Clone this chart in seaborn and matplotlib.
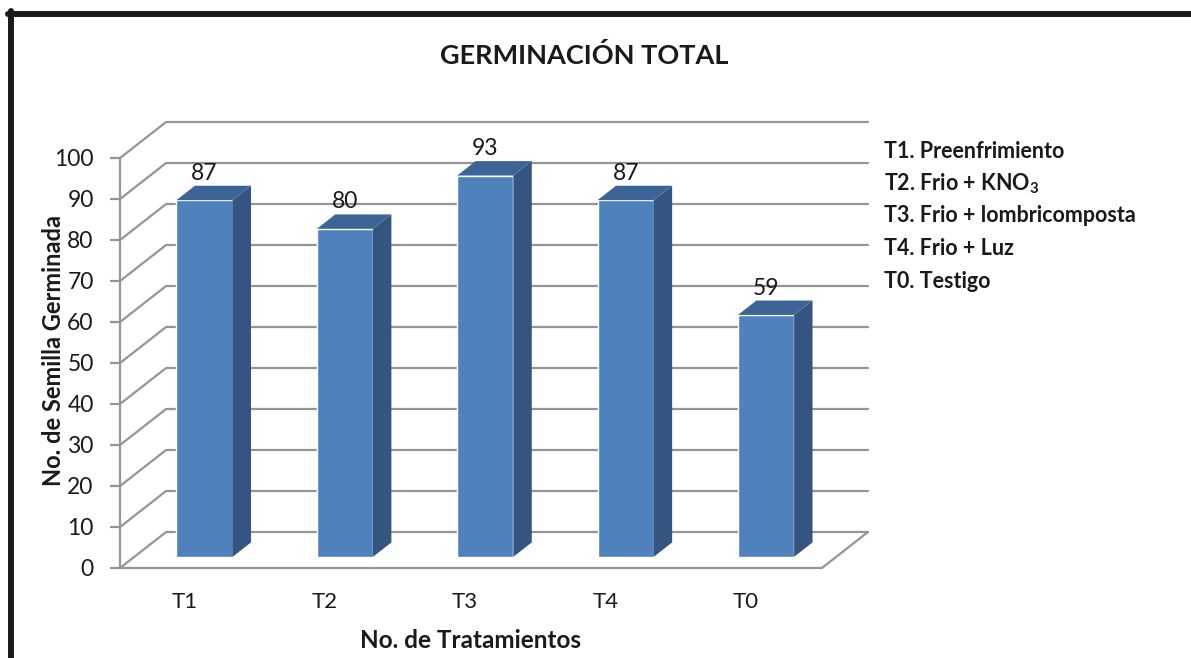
import os
import numpy as np
import pandas as pd
import matplotlib
matplotlib.use('Agg')
import matplotlib.pyplot as plt
import matplotlib.transforms as mtransforms
from matplotlib.patches import Polygon
from matplotlib.lines import Line2D
import seaborn as sns

os.environ['MPLCONFIGDIR'] = '/tmp'

# data
treatments = ['T1', 'T2', 'T3', 'T4', 'T0']
germinated = [87, 80, 93, 87, 59]
legend_lines = ['T1. Preenfrimiento',
                r'T2. Frio + KNO$_\mathbf{3}$',
                'T3. Frio + lombricomposta',
                'T4. Frio + Luz',
                'T0. Testigo']
y_ticks = list(range(0, 101, 10))

sns.set_theme(style='white')
plt.rcParams['font.family'] = ['Lato', 'DejaVu Sans']
plt.rcParams['mathtext.fontset'] = 'custom'
plt.rcParams['mathtext.rm'] = 'Lato'
plt.rcParams['mathtext.bf'] = 'Lato:bold'

FRONT = '#4F81BD'
SIDE = '#34557F'
TOP = '#3C6496'
GRID = '#959595'
TXT = '#1a1a1a'

# fake 3d: depth of the box in data units, bars sit between d0 and d1
depth_x, depth_y = 0.328, 8.78
d0, d1 = 0.31, 0.71

df = pd.DataFrame({'trat': treatments, 'n': germinated})

fig = plt.figure(figsize=(11.91, 6.58), dpi=100)
ax = fig.add_axes([0.1008, 0.1368, 0.628, 0.6778])
sns.barplot(data=df, x='trat', y='n', color=FRONT, width=0.4,
            saturation=1, ax=ax, zorder=3)

x0, x1 = -0.5, len(treatments) - 0.5

# walls / gridlines
for y in y_ticks:
    ax.plot([x0, x0 + depth_x, x1 + depth_x], [y, y + depth_y, y + depth_y],
            color=GRID, lw=1.6, zorder=1, clip_on=False)
# floor
ax.plot([x0, x1, x1 + depth_x], [0, 0, depth_y], color=GRID, lw=1.6,
        zorder=1, clip_on=False)

ddx = (d1 - d0) * depth_x
ddy = (d1 - d0) * depth_y
for p, v in zip(ax.patches, germinated):
    p.set_x(p.get_x() + d0 * depth_x)
    p.set_y(d0 * depth_y)
    xl, w = p.get_x(), p.get_width()
    yb = p.get_y()
    yt = yb + p.get_height()
    side = Polygon([(xl + w, yb), (xl + w + ddx, yb + ddy),
                    (xl + w + ddx, yt + ddy), (xl + w, yt)],
                   closed=True, fc=SIDE, ec='none', zorder=3)
    top = Polygon([(xl, yt), (xl + w, yt), (xl + w + ddx, yt + ddy),
                   (xl + ddx, yt + ddy)],
                  closed=True, fc=TOP, ec='none', zorder=3)
    ax.add_patch(side)
    ax.add_patch(top)
    ax.annotate(str(v), (xl + w / 2, yt + ddy), xytext=(0, 9),
                textcoords='offset points', ha='center', va='center',
                fontsize=16.5, color=TXT)

ax.set_xlim(x0, x1 + depth_x)
ax.set_ylim(0, 100 + depth_y)
ax.set_yticks(y_ticks)
ax.set_xlabel('')
ax.set_ylabel('')
for s in ['top', 'right', 'bottom']:
    ax.spines[s].set_visible(False)
ax.spines['left'].set_bounds(0, 100)
ax.spines['left'].set_color(GRID)
ax.spines['left'].set_linewidth(1.6)
ax.tick_params(axis='y', left=True, length=7, width=1.6, color=GRID,
               pad=12, labelsize=16.5, labelcolor=TXT)
ax.tick_params(axis='x', bottom=False, length=0, pad=17,
               labelsize=16, labelcolor=TXT)
shift = mtransforms.ScaledTranslation(-6 / 100, 0, fig.dpi_scale_trans)
for lab in ax.get_xticklabels():
    lab.set_transform(lab.get_transform() + shift)

fig.text(584 / 1191, 1 - 55 / 658, 'GERMINACIÓN TOTAL', ha='center',
         va='center', fontsize=19.5, fontweight='bold', color=TXT)
fig.text(54 / 1191, 1 - 350 / 658, 'No. de Semilla Germinada', ha='center',
         va='center', rotation=90, fontsize=17, fontweight='bold', color=TXT)
fig.text(470 / 1191, 1 - 641 / 658, 'No. de Tratamientos', ha='center',
         va='center', fontsize=17.5, fontweight='bold', color=TXT)

for i, t in enumerate(legend_lines):
    fig.text(884 / 1191, 1 - (151 + 32.5 * i) / 658, t, ha='left',
             va='center', fontsize=15.5, fontweight='bold', color=TXT)

# outer frame (left + top only)
fig.add_artist(Line2D([11 / 1191, 11 / 1191], [0, 1 - 11 / 658], color='k',
                      lw=4.3, transform=fig.transFigure))
fig.add_artist(Line2D([8 / 1191, 1], [1 - 13.5 / 658, 1 - 13.5 / 658],
                      color='k', lw=4.3, transform=fig.transFigure))

fig.savefig('out.png', dpi=100)
plt.close()
